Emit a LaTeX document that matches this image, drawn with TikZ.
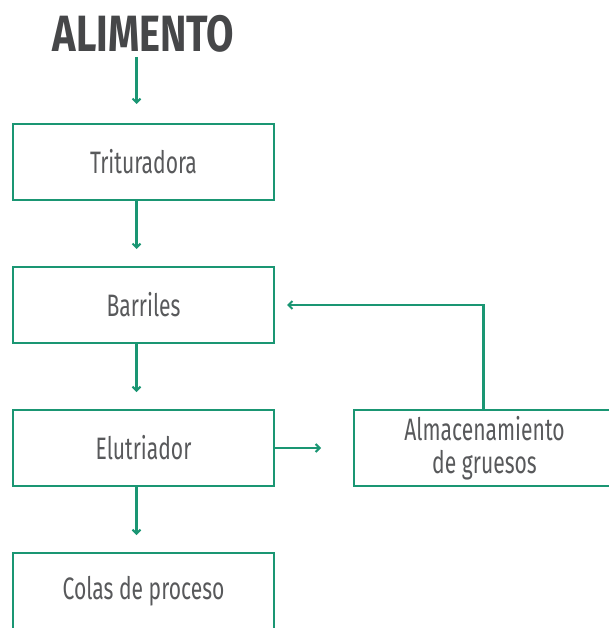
\documentclass[tikz,border=0pt]{standalone}
\usepackage{fontspec}
\setmainfont{Fira Sans}[FakeStretch=0.78]
\newfontfamily\boxfont{Fira Sans}[FakeStretch=0.68]
\usetikzlibrary{positioning, arrows.meta}

\definecolor{procgreen}{HTML}{1A9673}
\definecolor{textgrey}{HTML}{58595B}

\tikzset{
    procbox/.style={draw=procgreen, line width=2.6pt, minimum width=261pt, minimum height=76pt,
        outer sep=0pt, text=textgrey, font=\boxfont\fontsize{31}{30}\selectfont, align=center, inner sep=0pt},
    flow/.style={draw=procgreen, line width=2.4pt, -{Straight Barb[length=4pt,width=8pt,line width=2pt]}}
}

\begin{document}
\begin{tikzpicture}[x=1pt, y=-1pt]
    \useasboundingbox (0,0) rectangle (608,628);

    % Feed
    \node[text=textgrey!80!black, font=\fontsize{51}{51}\bfseries\selectfont, anchor=base] (feed) at (143.5,52) {ALIMENTO};

    % Process chain
    \node[procbox] (tri) at (143.5,162) {Trituradora};
    \node[procbox, below=67pt of tri] (bar) {Barriles};
    \node[procbox, below=67pt of bar] (elu) {Elutriador};
    \node[procbox, below=67pt of elu] (col) {Colas de proceso};
    \node[procbox, right=80pt of elu] (alm) {Almacenamiento\\[3pt]de gruesos};

    % Arrows
    \draw[flow] ([xshift=-7pt]tri.north |- 0,57) -- ([xshift=-7pt, yshift=20pt]tri.north);
    \draw[flow] ([xshift=-7pt]tri.south) -- ([xshift=-7pt, yshift=18pt]bar.north);
    \draw[flow] ([xshift=-7pt]bar.south) -- ([xshift=-7pt, yshift=18pt]elu.north);
    \draw[flow] ([xshift=-7pt]elu.south) -- ([xshift=-7pt, yshift=18pt]col.north);
    \draw[flow] (elu.east) -- ([xshift=47pt]elu.east);
    \draw[flow] ([xshift=-1pt]alm.north) |- ([xshift=13pt]bar.east);
\end{tikzpicture}
\end{document}
